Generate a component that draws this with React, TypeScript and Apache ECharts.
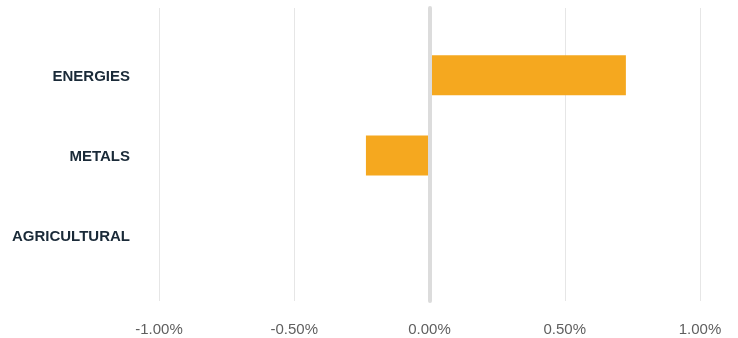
import React, { useEffect, useRef } from "react";
import * as echarts from "echarts";

const categories = ["ENERGIES", "METALS", "AGRICULTURAL"];
const values = [0.726, -0.235, 0];
const xTicks = [-1, -0.5, 0, 0.5, 1];

export default function App() {
  const ref = useRef<HTMLDivElement>(null);
  useEffect(() => {
    if (!ref.current) return;
    const chart = echarts.init(ref.current, null, { renderer: "svg" });
    const xMin = xTicks[0];
    const xMax = xTicks[xTicks.length - 1];
    chart.setOption({
      animation: false,
      grid: [
        { left: 159, right: 38, top: 8, bottom: 37 },
        { left: 159, right: 38, top: 35, bottom: 62 },
      ],
      xAxis: [
        {
          gridIndex: 0,
          type: "value",
          min: xMin,
          max: xMax,
          interval: 0.5,
          axisLine: { show: false },
          axisTick: { show: false },
          splitLine: { show: true, lineStyle: { color: "#e6e6e6", width: 1 } },
          axisLabel: {
            margin: 20,
            color: "#5f5f5f",
            fontFamily: "Liberation Sans",
            fontSize: 15,
            formatter: (v: number) => v.toFixed(2) + "%",
          },
        },
        {
          gridIndex: 1,
          type: "value",
          min: xMin,
          max: xMax,
          interval: 0.5,
          show: false,
          splitLine: { show: false },
        },
      ],
      yAxis: [
        {
          gridIndex: 0,
          type: "value",
          min: 0,
          max: 1,
          z: 10,
          axisLine: { show: true, onZero: true, lineStyle: { color: "#dcdcdc", width: 4 } },
          axisTick: { show: false },
          axisLabel: { show: false },
          splitLine: { show: false },
        },
        {
          gridIndex: 1,
          type: "category",
          data: categories,
          inverse: true,
          axisLine: { show: false },
          axisTick: { show: false },
          splitLine: { show: false },
          axisLabel: {
            margin: 29,
            color: "#1a2a38",
            fontFamily: "Liberation Sans",
            fontWeight: "bold",
            fontSize: 15,
          },
        },
      ],
      series: [
        {
          type: "bar",
          xAxisIndex: 1,
          yAxisIndex: 1,
          data: values,
          barWidth: 40,
          z: 1,
          itemStyle: { color: "#F5A81F" },
        },
      ],
    });
    return () => chart.dispose();
  }, []);
  return (
    <div
      ref={ref}
      style={{ position: "fixed", left: 0, top: 0, width: 738, height: 338 }}
    />
  );
}
